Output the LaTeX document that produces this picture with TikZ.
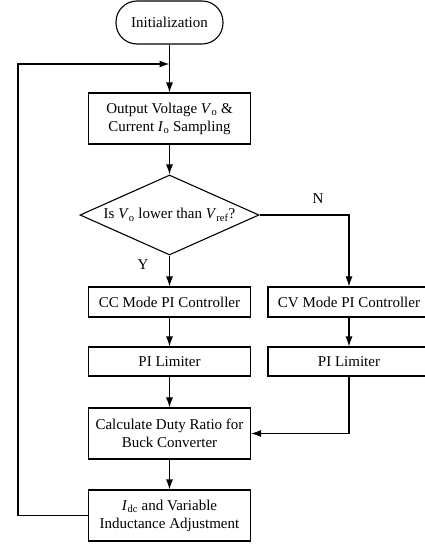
\documentclass[tikz,border=0pt]{standalone}
\usepackage{fontspec}
\setmainfont{Liberation Serif}
\usetikzlibrary{shapes.geometric,arrows.meta}

\begin{document}
\begin{tikzpicture}[x=1pt,y=-1pt,line width=1.1pt,
  font=\fontsize{15}{18}\selectfont,
  box/.style={draw,minimum width=162pt,align=center,inner sep=0pt},
  arr/.style={-{Latex[length=10pt,width=7pt]}}]
  \useasboundingbox (0,0) rectangle (425,544);
  \clip (0,0) rectangle (425,544);
  \node[box,rounded corners=21pt,minimum width=107pt,minimum height=43pt] (init) at (169.5,22.5) {Initialization};
  \node[box,minimum height=51pt] (samp) at (169.5,118.5) {Output Voltage \textit{V}\textsubscript{o} \&\\Current \textit{I}\textsubscript{o} Sampling};
  \node[diamond,draw,inner sep=0pt,shape aspect=2.24,minimum width=179pt,minimum height=80pt] (cmp) at (169.5,215) {Is \textit{V}\textsubscript{o} lower than \textit{V}\textsubscript{ref}?};
  \node[box,minimum height=30pt] (cc) at (169.5,302) {CC Mode PI Controller};
  \node[box,minimum height=30pt] (cv) at (349,302) {CV Mode PI Controller};
  \node[box,minimum height=29pt] (limcc) at (169.5,361.5) {PI Limiter};
  \node[box,minimum height=29pt] (limcv) at (349,361.5) {PI Limiter};
  \node[box,minimum height=51pt] (duty) at (169.5,433.5) {Calculate Duty Ratio for\\Buck Converter};
  \node[box,minimum height=51pt] (adj) at (169.5,515.5) {\textit{I}\textsubscript{dc} and Variable\\Inductance Adjustment};
  \node (yes) at (143,265) {Y};
  \node (no) at (318,199) {N};
  \coordinate (join) at (169.5,64);
  \coordinate (loop) at (18,64);
  \draw[arr] (init) -- (samp);
  \draw[arr] (samp) -- (cmp);
  \draw[arr] (cmp) -- (cc);
  \draw[arr] (cmp.east) -| (cv);
  \draw[arr] (cc) -- (limcc);
  \draw[arr] (cv) -- (limcv);
  \draw[arr] (limcc) -- (duty);
  \draw[arr] (limcv) |- (duty);
  \draw[arr] (duty) -- (adj);
  \draw[arr] (adj.west) -| (loop) -- (join);
\end{tikzpicture}
\end{document}
